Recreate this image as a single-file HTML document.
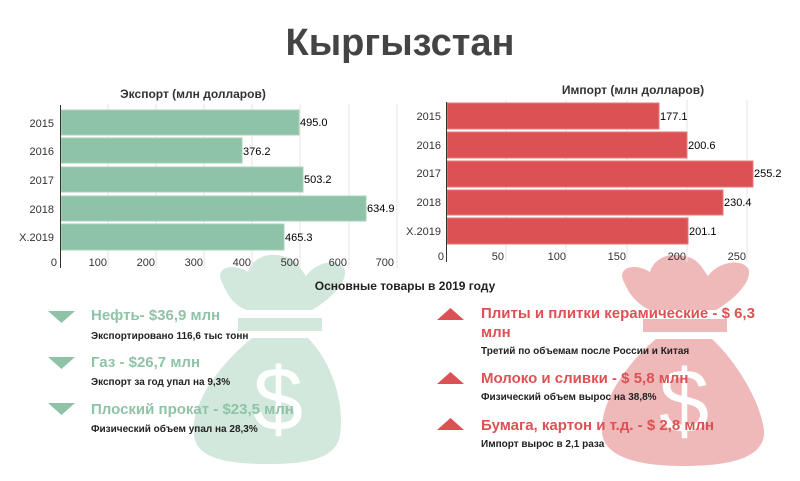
<!DOCTYPE html>
<html><head><meta charset="utf-8"><style>
body{margin:0;background:#fff;width:800px;height:481px;overflow:hidden;position:relative;font-family:"Liberation Sans",sans-serif}
.t{position:absolute;white-space:nowrap}
</style></head><body>
<svg width="800" height="481" style="position:absolute;left:0;top:0" font-family="Liberation Sans, sans-serif">
<!-- bags -->
<g fill="#d2e8dc">
<path d="M222,282 C214,268 232,262 248,272 C252,258 268,252 282,256 C296,258 300,268 306,276 C316,262 336,258 344,268 C350,280 330,300 312,310 L246,310 C232,304 226,292 222,282Z"/>
<rect x="238" y="318" width="84" height="13"/>
<path d="M252,338 L308,338 C330,360 345,400 340,435 C336,458 310,464 268,464 C226,464 196,458 194,435 C190,400 225,360 252,338Z"/>
</g>
<text x="278" y="430" font-size="90" fill="#fff" text-anchor="middle">$</text>
<g fill="#f0b9b9">
<path d="M624,282 C616,268 634,262 650,272 C654,258 670,252 684,256 C698,258 702,268 708,276 C718,262 740,258 748,268 C754,280 734,300 716,310 L650,310 C636,304 628,292 624,282Z"/>
<rect x="643" y="319" width="84" height="13"/>
<path d="M656,339 L712,339 C735,360 760,400 764,430 C766,458 730,466 684,466 C640,466 604,458 602,432 C600,400 630,360 656,339Z"/>
</g>
<text x="684" y="432" font-size="90" fill="#fff" text-anchor="middle">$</text>
<!-- export grid -->
<g stroke="#e6e6e6">
<line x1="108" y1="104" x2="108" y2="268"/><line x1="156" y1="104" x2="156" y2="268"/><line x1="204" y1="104" x2="204" y2="268"/><line x1="252" y1="104" x2="252" y2="268"/><line x1="300" y1="104" x2="300" y2="268"/><line x1="349" y1="104" x2="349" y2="268"/><line x1="397" y1="104" x2="397" y2="268"/>
</g>
<g fill="#8fc3a7" stroke="#a9d2bb">
<rect x="61" y="110" width="238" height="25"/><rect x="61" y="138" width="181" height="25"/><rect x="61" y="167" width="242" height="25"/><rect x="61" y="196" width="305" height="25"/><rect x="61" y="224" width="223" height="26"/>
</g>
<line x1="60.5" y1="105" x2="60.5" y2="268" stroke="#333"/>
<g font-size="11" fill="#000">
<text x="300" y="126">495.0</text><text x="243" y="155">376.2</text><text x="304" y="183">503.2</text><text x="367" y="212">634.9</text><text x="285" y="241">465.3</text>
</g>
<g font-size="11" fill="#333" text-anchor="end">
<text x="54" y="127">2015</text><text x="54" y="155">2016</text><text x="54" y="184">2017</text><text x="54" y="213">2018</text><text x="54" y="241">X.2019</text>
<text x="57" y="266">0</text><text x="107" y="266">100</text><text x="155" y="266">200</text><text x="203" y="266">300</text><text x="251" y="266">400</text><text x="299" y="266">500</text><text x="347" y="266">600</text><text x="394" y="266">700</text>
</g>
<text x="193" y="98" font-size="12" font-weight="bold" fill="#333" text-anchor="middle">Экспорт (млн долларов)</text>
<!-- import grid -->
<g stroke="#e6e6e6">
<line x1="506" y1="100" x2="506" y2="262"/><line x1="566" y1="100" x2="566" y2="262"/><line x1="627" y1="100" x2="627" y2="262"/><line x1="687" y1="100" x2="687" y2="262"/><line x1="747" y1="100" x2="747" y2="262"/>
</g>
<g fill="#dc5254" stroke="#e57a7b">
<rect x="447" y="103" width="212" height="26"/><rect x="447" y="132" width="240" height="26"/><rect x="447" y="161" width="306" height="26"/><rect x="447" y="190" width="276" height="25"/><rect x="447" y="218" width="241" height="26"/>
</g>
<line x1="446.5" y1="102" x2="446.5" y2="262" stroke="#333"/>
<g font-size="11" fill="#000">
<text x="660" y="120">177.1</text><text x="688" y="149">200.6</text><text x="754" y="177">255.2</text><text x="724" y="206">230.4</text><text x="689" y="235">201.1</text>
</g>
<g font-size="11" fill="#333" text-anchor="end">
<text x="441" y="120">2015</text><text x="441" y="149">2016</text><text x="441" y="177">2017</text><text x="441" y="206">2018</text><text x="441" y="235">X.2019</text>
<text x="444" y="260">0</text><text x="504" y="260">50</text><text x="566" y="260">100</text><text x="626" y="260">150</text><text x="686" y="260">200</text><text x="746" y="260">250</text>
</g>
<text x="633" y="94" font-size="12" font-weight="bold" fill="#333" text-anchor="middle">Импорт (млн долларов)</text>
<text x="400" y="55" font-size="38" font-weight="bold" fill="#444" text-anchor="middle">Кыргызстан</text>
<text x="405" y="290" font-size="12" font-weight="bold" fill="#222" text-anchor="middle">Основные товары в 2019 году</text>
<!-- triangles -->
<g fill="#8fc3a7">
<polygon points="48,311 75,311 61.5,323"/><polygon points="48,357 75,357 61.5,369"/><polygon points="48,403 75,403 61.5,415"/>
</g>
<g fill="#dc5254">
<polygon points="437,320 464,320 450.5,308"/><polygon points="437,384 464,384 450.5,372"/><polygon points="437,430 464,430 450.5,418"/>
</g>
<g font-size="15" font-weight="bold" fill="#8fc3a7">
<text x="91" y="320">Нефть- $36,9 млн</text><text x="91" y="367">Газ - $26,7 млн</text><text x="91" y="414">Плоский прокат - $23,5 млн</text>
</g>
<g font-size="10" font-weight="bold" fill="#222">
<text x="91" y="339">Экспортировано 116,6 тыс тонн</text><text x="91" y="385">Экспорт за год упал на 9,3%</text><text x="91" y="432">Физический объем упал на 28,3%</text>
</g>
<g font-size="15" font-weight="bold" fill="#dc5254">
<text x="481" y="318">Плиты и плитки керамические - $ 6,3</text><text x="481" y="337">млн</text><text x="481" y="383">Молоко и сливки - $ 5,8 млн</text><text x="481" y="430">Бумага, картон и т.д. - $ 2,8 млн</text>
</g>
<g font-size="10" font-weight="bold" fill="#222">
<text x="481" y="354">Третий по объемам после России и Китая</text><text x="481" y="400">Физический объем вырос на 38,8%</text><text x="481" y="447">Импорт вырос в 2,1 раза</text>
</g>
</svg>
</body></html>
